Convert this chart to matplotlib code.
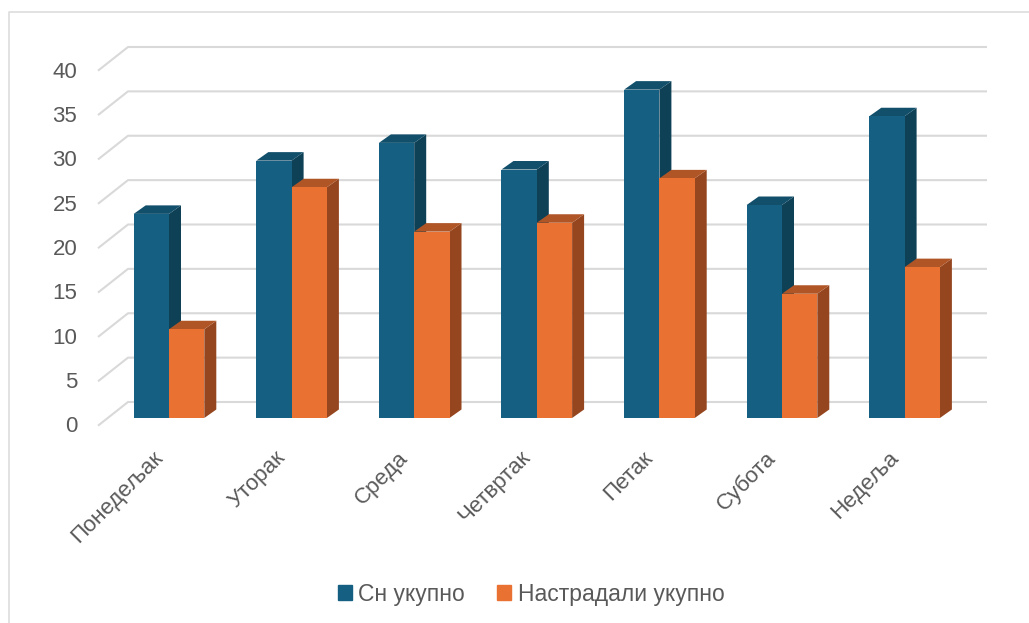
import matplotlib
matplotlib.use("Agg")
import matplotlib.pyplot as plt
from matplotlib.lines import Line2D
from matplotlib.patches import Patch
from matplotlib.transforms import ScaledTranslation

plt.rcParams['font.family'] = ['Liberation Sans', 'DejaVu Sans']

days = ['Понедељак', 'Уторак', 'Среда', 'Четвртак', 'Петак', 'Субота', 'Недеља']
total_sleep = [23, 29, 31, 28, 37, 24, 34]
total_hurt = [10, 26, 21, 22, 27, 14, 17]
y_ticks = [0, 5, 10, 15, 20, 25, 30, 35, 40]
series_names = ['Сн укупно', 'Настрадали укупно']

W, H = 1029, 623
BLUE = ('#156082', '#0E4056', '#124F6B')
ORANGE = ('#E97132', '#95461F', '#B05526')
GREY = '#595959'
GRID = '#D9D9D9'

# pixel scale of the axes
PX_X = 122.6
PX_Y = 8.875
left, right, y0, y40 = 98, 987, 418, 63

fig = plt.figure(figsize=(W / 100, H / 100), dpi=100)
ax = fig.add_axes([left / W, 1 - y0 / H, (right - left) / W, (y0 - y40) / H])
ax.set_xlim((left - 169) / PX_X, (right - 169) / PX_X)
ax.set_ylim(0, 40)
for s in ax.spines.values():
    s.set_visible(False)

bar_w = 35.3 / PX_X
dep_x, dep_y = 12 / PX_X, 8.5 / PX_Y

# back wall gridlines with the diagonal on the floor side
x_min, x_max = ax.get_xlim()
for v in y_ticks:
    xs = [x_min, x_min + 30 / PX_X, x_max]
    ys = [v - 7.7 / PX_Y, v + 16 / PX_Y, v + 16 / PX_Y]
    ax.plot(xs, ys, color=GRID, lw=1.5, clip_on=False, zorder=1, solid_capstyle='butt')


def bar3d(x0, val, cols, z):
    x1 = x0 + bar_w
    ax.fill([x1, x1 + dep_x, x1 + dep_x, x1], [0, dep_y, val + dep_y, val],
            color=cols[1], lw=0, clip_on=False, zorder=z)
    ax.fill([x0, x0 + dep_x, x1 + dep_x, x1], [val, val + dep_y, val + dep_y, val],
            color=cols[2], lw=0, clip_on=False, zorder=z)
    ax.bar(x0, val, bar_w, align='edge', color=cols[0], lw=0, clip_on=False, zorder=z + 0.1)


for i in range(len(days)):
    bar3d(i - bar_w, total_sleep[i], BLUE, 2 + i)
    bar3d(i, total_hurt[i], ORANGE, 2.5 + i)

# tick labels
ax.set_yticks(y_ticks)
ax.set_yticklabels([str(v) for v in y_ticks], fontsize=16, color=GREY)
ax.tick_params(axis='y', length=0, pad=15)
for lbl in ax.get_yticklabels():
    lbl.set_transform(lbl.get_transform() + ScaledTranslation(0, -6.5 / 100, fig.dpi_scale_trans))

ax.set_xticks(range(len(days)))
ax.set_xticklabels(days, fontsize=16, color=GREY, rotation=45, ha='right', rotation_mode='anchor')
ax.tick_params(axis='x', length=0, pad=21)
for lbl in ax.get_xticklabels():
    lbl.set_transform(lbl.get_transform() + ScaledTranslation(-17 / 100, 0, fig.dpi_scale_trans))

# legend
handles = [Patch(color=BLUE[0]), Patch(color=ORANGE[0])]
fig.legend(handles, series_names, ncol=2, loc='center', bbox_to_anchor=(531 / W, 1 - 594 / H),
           frameon=False, fontsize=16.5, labelcolor=GREY, handlelength=0.62, handleheight=0.62,
           handletextpad=0.28, columnspacing=1.4)

# chart frame, only the top and left edges show
fig.add_artist(Line2D([8.5 / W, 8.5 / W, 1], [0, 1 - 12 / H, 1 - 12 / H], color='#DADADA', lw=1.1))

fig.savefig('out.png', dpi=100, facecolor='white')
